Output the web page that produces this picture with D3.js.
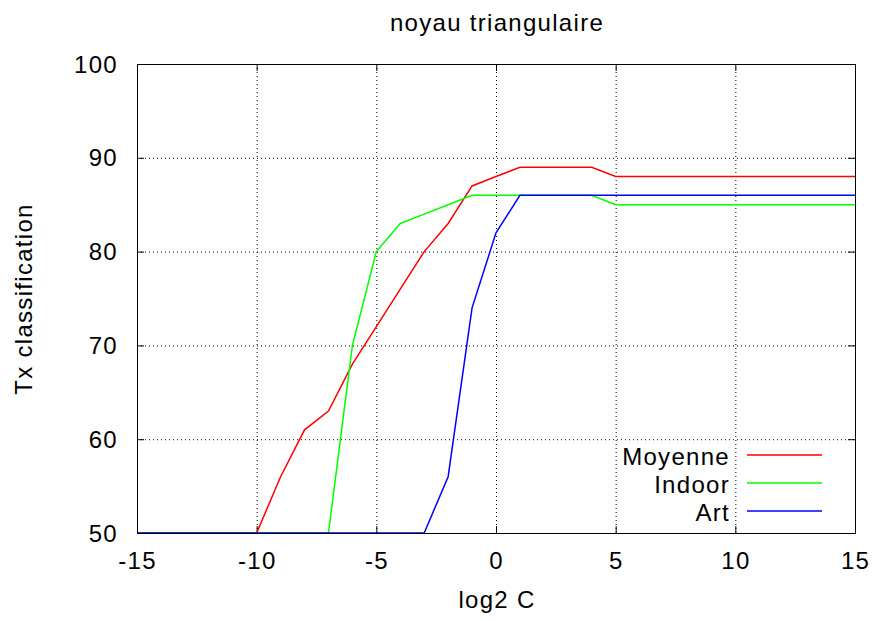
<!DOCTYPE html>
<html><head><meta charset="utf-8">
<script src="https://cdn.jsdelivr.net/npm/d3@7"></script>
<style>body{margin:0;background:#fff}svg{display:block}text{font-family:"Liberation Sans",Arial,sans-serif;font-size:24px;letter-spacing:1.3px}</style>
</head><body>
<script>
const xs = [-15,-14,-13,-12,-11,-10,-9,-8,-7,-6,-5,-4,-3,-2,-1,0,1,2,3,4,5,6,7,8,9,10,11,12,13,14,15];
const moyenne = [50,50,50,50,50,50,56,61,63,68,72,76,80,83,87,88,89,89,89,89,88,88,88,88,88,88,88,88,88,88,88];
const indoor  = [50,50,50,50,50,50,50,50,50,70,80,83,84,85,86,86,86,86,86,86,85,85,85,85,85,85,85,85,85,85,85];
const art     = [50,50,50,50,50,50,50,50,50,50,50,50,50,56,74,82,86,86,86,86,86,86,86,86,86,86,86,86,86,86,86];
const seriesNames = ["Moyenne","Indoor","Art"];
const seriesColors = ["#ff0000","#00ff00","#0000ff"];
const xTicks = [-15,-10,-5,0,5,10,15];
const yTicks = [50,60,70,80,90,100];

const W=877,H=621, L=137,R=855,T=64,B=533;
const svg=d3.select("body").append("svg").attr("width",W).attr("height",H);
const x=d3.scaleLinear().domain([-15,15]).range([L,R]);
const y=d3.scaleLinear().domain([50,100]).range([B,T]);

// grid
const g=svg.append("g");
g.selectAll(".vg").data(xTicks.slice(1,-1)).join("line")
 .attr("x1",d=>x(d)+0.5).attr("x2",d=>x(d)+0.5).attr("y1",T).attr("y2",B)
 .attr("stroke","#000").attr("stroke-width",1).attr("stroke-dasharray","1,3");
g.selectAll(".hg").data(yTicks.slice(1,-1)).join("line")
 .attr("y1",d=>y(d)+0.5).attr("y2",d=>y(d)+0.5).attr("x1",L).attr("x2",R)
 .attr("stroke","#000").attr("stroke-width",1).attr("stroke-dasharray","1,3");

// ticks (inside, mirrored)
const tl=7;
xTicks.forEach(v=>{
  g.append("line").attr("x1",x(v)+0.5).attr("x2",x(v)+0.5).attr("y1",B).attr("y2",B-tl).attr("stroke","#000");
  g.append("line").attr("x1",x(v)+0.5).attr("x2",x(v)+0.5).attr("y1",T).attr("y2",T+tl).attr("stroke","#000");
  svg.append("text").attr("x",x(v)+0.6).attr("y",B+36).attr("text-anchor","middle").text(v);
});
yTicks.forEach(v=>{
  g.append("line").attr("x1",L).attr("x2",L+tl).attr("y1",y(v)+0.5).attr("y2",y(v)+0.5).attr("stroke","#000");
  g.append("line").attr("x1",R).attr("x2",R-tl).attr("y1",y(v)+0.5).attr("y2",y(v)+0.5).attr("stroke","#000");
  svg.append("text").attr("x",L-19).attr("y",y(v)+8.5).attr("text-anchor","end").text(v);
});

// lines
const data=[moyenne,indoor,art];
const line=d3.line().x((d,i)=>x(xs[i])).y(d=>y(d));
data.forEach((s,k)=>{
  svg.append("path").datum(s).attr("d",line).attr("fill","none")
   .attr("stroke",seriesColors[k]).attr("stroke-width",1.5);
});

// border
svg.append("rect").attr("x",L+0.5).attr("y",T+0.5).attr("width",R-L).attr("height",B-T)
 .attr("fill","none").attr("stroke","#000").attr("stroke-width",1);

// legend
seriesNames.forEach((n,k)=>{
  const yy=455+k*28;
  svg.append("text").attr("x",730).attr("y",yy+9.5).attr("text-anchor","end").text(n);
  svg.append("line").attr("x1",747).attr("x2",822).attr("y1",yy).attr("y2",yy)
   .attr("stroke",seriesColors[k]).attr("stroke-width",1.5);
});

// titles
svg.append("text").attr("x",497).attr("y",31).attr("text-anchor","middle").text("noyau triangulaire");
svg.append("text").attr("x",497).attr("y",608).attr("text-anchor","middle").text("log2 C");
svg.append("text").attr("transform","translate(32,299) rotate(-90)").attr("text-anchor","middle").text("Tx classification");
</script>
</body></html>
